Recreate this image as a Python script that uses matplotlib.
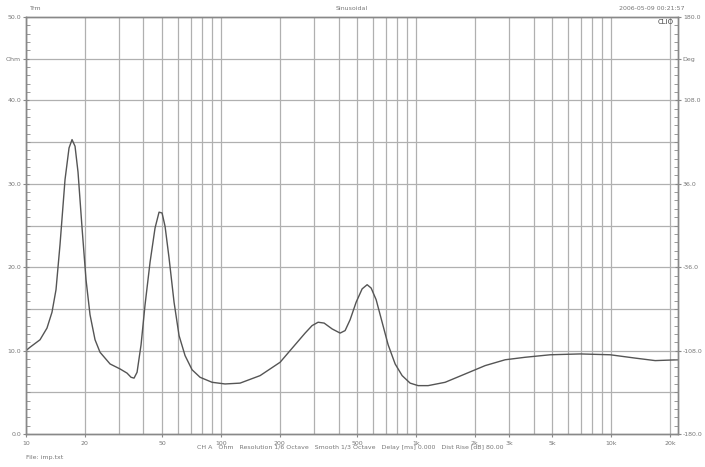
import numpy as np
import matplotlib.pyplot as plt
from matplotlib.ticker import FixedLocator, NullFormatter

# impedance curve (Hz, Ohm)
freq = [10, 10.48, 11.8, 12.81, 13.59, 14.25, 14.94, 15.85, 16.62, 17.22, 17.84,
        18.48, 19.38, 20.31, 21.29, 22.59, 23.96, 26.97, 30.35, 32.96, 34.56,
        35.8, 37.1, 38.89, 40.77, 43.25, 45.87, 48.09, 49.83, 51.63, 54.12,
        57.41, 60.9, 65.37, 71.02, 78.05, 89.93, 104.8,
        125.1, 158.5, 200.7, 239.6, 269.7, 292.9, 314.4, 337.5, 370.9, 407.7,
        432.4, 458.7, 492.5, 528.6, 560.8, 587.9, 623.7, 669.4, 718.5, 780.5,
        847.7, 931.6, 1024, 1152,
        1408, 1784, 2258, 2859, 3622, 4867, 6934, 9883, 13280, 16810, 22060]
imp = [10.0, 10.4, 11.3, 12.7, 14.6, 17.3, 22.7, 30.5, 34.3, 35.3, 34.5,
       31.4, 24.7, 18.5, 14.3, 11.3, 9.8, 8.4, 7.8, 7.3, 6.8,
       6.7, 7.4, 10.7, 15.5, 20.6, 24.7, 26.6, 26.5, 24.9, 21.1,
       15.8, 11.8, 9.4, 7.7, 6.8, 6.2, 6.0,
       6.1, 7.0, 8.6, 10.7, 12.1, 13.0, 13.4, 13.3, 12.6, 12.1,
       12.4, 13.7, 15.8, 17.4, 17.9, 17.5, 16.1, 13.4, 10.7, 8.4,
       7.0, 6.1, 5.8, 5.8,
       6.2, 7.2, 8.2, 8.9, 9.2, 9.5, 9.6, 9.5, 9.1, 8.8, 8.9]

x_ticks = [10, 20, 50, 100, 200, 500, 1000, 2000, 3000, 5000, 10000, 20000]
x_labels = ['10', '20', '50', '100', '200', '500', '1k', '2k', '3k', '5k', '10k', '20k']
y_ticks = [0, 10, 20, 30, 40, 45, 50]
y_labels = ['0.0', '10.0', '20.0', '30.0', '40.0', 'Ohm', '50.0']
ph_ticks = [-180, -108, -36, 36, 108, 144, 180]
ph_labels = ['-180.0', '-108.0', '-36.0', '36.0', '108.0', 'Deg', '180.0']

grid_c = '#b0b0b0'
txt_c = '#777777'

fig = plt.figure(figsize=(7.05, 4.67), dpi=100)
ax = fig.add_axes([26/705, 33/467, 652/705, 417/467])

ax.set_xscale('log')
ax.set_xlim(10, 22000)
ax.set_ylim(0, 50)

# grid: every 1..9 per decade, every 5 Ohm
vgrid = [m * 10**d for d in range(1, 5) for m in range(1, 10) if m * 10**d <= 20000]
for v in vgrid:
    ax.axvline(v, color=grid_c, lw=0.9, zorder=1)
for h in range(5, 50, 5):
    ax.axhline(h, color=grid_c, lw=0.9, zorder=1)

ax.plot(freq, imp, color='#555555', lw=1.0, zorder=3)

ax.xaxis.set_major_locator(FixedLocator(x_ticks))
ax.xaxis.set_minor_locator(FixedLocator([]))
ax.set_xticklabels(x_labels)
ax.xaxis.set_minor_formatter(NullFormatter())
ax.set_yticks(y_ticks)
ax.set_yticklabels(y_labels)
ax.yaxis.set_minor_locator(FixedLocator(np.arange(0, 51, 1)))
ax.tick_params(axis='x', which='major', length=2, color='#888888', labelsize=4.5,
               labelcolor=txt_c, pad=3)
ax.tick_params(axis='y', which='major', direction='inout', length=5, color='#888888',
               labelsize=4.5, labelcolor=txt_c, pad=1)
ax.tick_params(axis='y', which='minor', direction='in', length=3, color='#888888')

ax2 = ax.twinx()
ax2.set_ylim(-180, 180)
ax2.set_yticks(ph_ticks)
ax2.set_yticklabels(ph_labels)
ax2.yaxis.set_minor_locator(FixedLocator(np.arange(-180, 180.1, 7.2)))
ax2.tick_params(axis='y', which='major', direction='inout', length=5, color='#888888',
                labelsize=4.5, labelcolor=txt_c, pad=1)
ax2.tick_params(axis='y', which='minor', direction='in', length=3, color='#888888')

for a in (ax, ax2):
    for s in a.spines.values():
        s.set_color('#888888')
        s.set_linewidth(1.0)

fig.text(30/705, 1 - 8/467, 'Trm', fontsize=4.5, color=txt_c, va='center')
fig.text(352/705, 1 - 9/467, 'Sinusoidal', fontsize=4.5, color=txt_c,
         ha='center', va='center')
fig.text(652/705, 1 - 9/467, '2006-05-09 00:21:57', fontsize=4.5, color=txt_c,
         ha='center', va='center')
fig.text(674/705, 1 - 22/467, 'CLIO', fontsize=5, color='#444444',
         ha='right', va='center')
fig.text(350/705, 1 - 447/467,
         'CH A   Ohm   Resolution 1/6 Octave   Smooth 1/3 Octave   Delay [ms] 0.000   Dist Rise [dB] 80.00',
         fontsize=4.5, color=txt_c, ha='center', va='center')
fig.text(26/705, 1 - 457/467, 'File: imp.txt', fontsize=4.5, color=txt_c,
         va='center')

fig.savefig('out.png', dpi=100, facecolor='white')
